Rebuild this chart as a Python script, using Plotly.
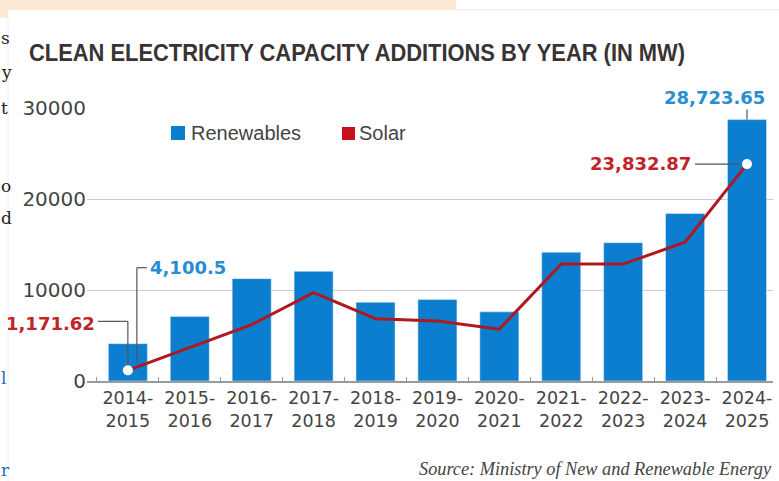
import plotly.graph_objects as go

# ---------------- data ----------------
years = ["2014-2015", "2015-2016", "2016-2017", "2017-2018", "2018-2019", "2019-2020",
         "2020-2021", "2021-2022", "2022-2023", "2023-2024", "2024-2025"]
tick_labels = ["2014-<br>2015", "2015-<br>2016", "2016-<br>2017", "2017-<br>2018",
               "2018-<br>2019", "2019-<br>2020", "2020-<br>2021", "2021-<br>2022",
               "2022-<br>2023", "2023-<br>2024", "2024-<br>2025"]
renewables = [4100.5, 7100, 11250, 12050, 8650, 8950, 7600, 14150, 15200, 18400, 28723.65]
solar = [1171.62, 3650, 6200, 9700, 6850, 6600, 5700, 12850, 12850, 15250, 23832.87]
y_ticks = [0, 10000, 20000, 30000]

TITLE = "CLEAN ELECTRICITY CAPACITY ADDITIONS BY YEAR (IN MW)"
SOURCE = "Source: Ministry of New and Renewable Energy"

# ---------------- layout geometry ----------------
W, H = 779, 481
L, R, T, B = 87, 6, 108, 100
PW, PH = W - L - R, H - T - B


def px(x):
    return (x - L) / PW


def py(y):
    return (H - B - y) / PH


BAR = "#0c7ecf"
LINE = "#b0181f"
BLUE_TXT = "#2a8dd0"
RED_TXT = "#c1232b"
GREY_TXT = "#444444"
NUM_FONT = "DejaVu Sans"

fig = go.Figure()
fig.add_trace(go.Bar(x=years, y=renewables, name="Renewables", marker_color=BAR,
                     width=0.63, showlegend=False))
fig.add_trace(go.Scatter(x=years, y=solar, name="Solar", mode="lines",
                         line=dict(color=LINE, width=3), showlegend=False))
fig.add_trace(go.Scatter(x=[years[0], years[-1]], y=[solar[0], solar[-1]], mode="markers",
                         marker=dict(color="white", size=10, line=dict(width=0)),
                         showlegend=False, hoverinfo="skip"))

shapes = []
annotations = []

# page background artefacts (screenshot)
shapes.append(dict(type="rect", xref="paper", yref="paper", x0=px(0), x1=px(456), y0=py(10), y1=py(0),
                   fillcolor="#fde8d6", line=dict(width=0), layer="below"))
shapes.append(dict(type="rect", xref="paper", yref="paper", x0=px(0), x1=px(8), y0=py(18), y1=py(0),
                   fillcolor="#fde8d6", line=dict(width=0), layer="below"))
shapes.append(dict(type="line", xref="paper", yref="paper", x0=px(456), x1=px(779), y0=py(10), y1=py(10),
                   line=dict(color="#e6e6e6", width=1)))
shapes.append(dict(type="line", xref="paper", yref="paper", x0=px(8), x1=px(8), y0=py(18), y1=py(481),
                   line=dict(color="#f0f0f0", width=1)))
for ch, yy, col in [("s", 38, "#222"), ("y", 72, "#222"), ("t", 108, "#222"), ("o", 186, "#222"),
                    ("d", 218, "#222"), ("l", 378, "#2a6fb5"), ("r", 470, "#2a6fb5")]:
    annotations.append(dict(xref="paper", yref="paper", x=px(0), y=py(yy), xanchor="left",
                            yanchor="middle", showarrow=False, text=ch, borderpad=0,
                            font=dict(family="DejaVu Serif", size=17, color=col)))

# title
annotations.append(dict(xref="paper", yref="paper", x=px(27), y=py(52), xanchor="left", yanchor="middle",
                        align="left", showarrow=False, text=TITLE,
                        font=dict(family="Liberation Sans", size=24, color="#3a3333", weight="bold")))
# source
annotations.append(dict(xref="paper", yref="paper", x=px(774), y=py(469), xanchor="right", yanchor="middle",
                        align="right", showarrow=False, text=SOURCE,
                        font=dict(family="Liberation Serif", size=18.3, color="#444", style="italic")))

# custom legend
shapes.append(dict(type="rect", xref="paper", yref="paper", x0=px(171), x1=px(185), y0=py(140), y1=py(126),
                   fillcolor=BAR, line=dict(width=0)))
shapes.append(dict(type="rect", xref="paper", yref="paper", x0=px(342), x1=px(355), y0=py(140), y1=py(127),
                   fillcolor="#c8101a", line=dict(width=0)))
annotations.append(dict(xref="paper", yref="paper", x=px(189), y=py(133), xanchor="left", yanchor="middle",
                        showarrow=False, text="Renewables", font=dict(family="Liberation Sans", size=20, color=GREY_TXT)))
annotations.append(dict(xref="paper", yref="paper", x=px(357), y=py(133), xanchor="left", yanchor="middle",
                        showarrow=False, text="Solar", font=dict(family="Liberation Sans", size=20, color=GREY_TXT)))

# value callouts with leader lines (pixel offsets from the data point)
LEAD = dict(color="#555555", width=1.2)


def lead(xi, yv, dx0, dy0, dx1, dy1):
    shapes.append(dict(type="line", xref="x", yref="y", xsizemode="pixel", ysizemode="pixel",
                       xanchor=xi, yanchor=yv, x0=dx0, y0=dy0, x1=dx1, y1=dy1, line=LEAD))


def callout(i, yv, text, color, xanchor, dx, dy):
    annotations.append(dict(x=years[i], y=yv, xref="x", yref="y", xanchor=xanchor, yanchor="middle",
                            xshift=dx, yshift=dy, showarrow=False, text=text,
                            font=dict(family=NUM_FONT, size=18, color=color, weight="bold")))


lead(0, solar[0], 0, 5, 0, 49)
lead(0, solar[0], 0, 49, -30, 49)
callout(0, solar[0], f"{solar[0]:,.2f}", RED_TXT, "right", -31, 47)

lead(0, renewables[0], 9, -19, 9, 76)
lead(0, renewables[0], 9, 76, 19, 76)
callout(0, renewables[0], f"{renewables[0]:,.1f}", BLUE_TXT, "left", 20, 76)

lead(10, renewables[-1], 0, 0, 0, 10)
callout(10, renewables[-1], f"{renewables[-1]:,.2f}", BLUE_TXT, "right", 20, 22)

lead(10, solar[-1], -7, 0, -52, 0)
callout(10, solar[-1], f"{solar[-1]:,.2f}", RED_TXT, "right", -54, 1)

fig.update_layout(
    width=W, height=H,
    margin=dict(l=L, r=R, t=T, b=B, pad=0),
    paper_bgcolor="white", plot_bgcolor="white",
    showlegend=False,
    shapes=shapes, annotations=annotations,
    xaxis=dict(type="category", range=[-0.66, 10.42], tickmode="array", tickvals=years, ticktext=tick_labels,
               showline=True, linecolor="#9a9a9a", linewidth=1.5, ticks="inside", ticklen=4,
               tickcolor="#9a9a9a", tickson="boundaries", showgrid=False,
               tickfont=dict(family=NUM_FONT, size=17.5, color=GREY_TXT)),
    yaxis=dict(range=[0, 30000], tickvals=y_ticks, tickformat="d", showgrid=True, gridcolor="#cccccc",
               gridwidth=1, zeroline=False, showline=False, ticks="",
               tickfont=dict(family=NUM_FONT, size=20, color=GREY_TXT)),
)

# page setup: no body margin; condense the title to the reference width
post_js = """
(function(){
  document.body.style.margin='0';
  document.body.style.overflow='hidden';
  var gd = document.getElementById('{plot_id}');
  function fit(){
    if(!gd) return;
    gd.querySelectorAll('text.annotation-text').forEach(function(t){
      if(t.textContent === '%s'){
        t.setAttribute('textLength', '656');
        t.setAttribute('lengthAdjust', 'spacingAndGlyphs');
      }
    });
  }
  fit(); setTimeout(fit, 50); setTimeout(fit, 300);
  if(gd && gd.on) gd.on('plotly_afterplot', fit);
})();
""" % TITLE

fig.write_html("out.html", post_script=post_js, config={"displayModeBar": False})
